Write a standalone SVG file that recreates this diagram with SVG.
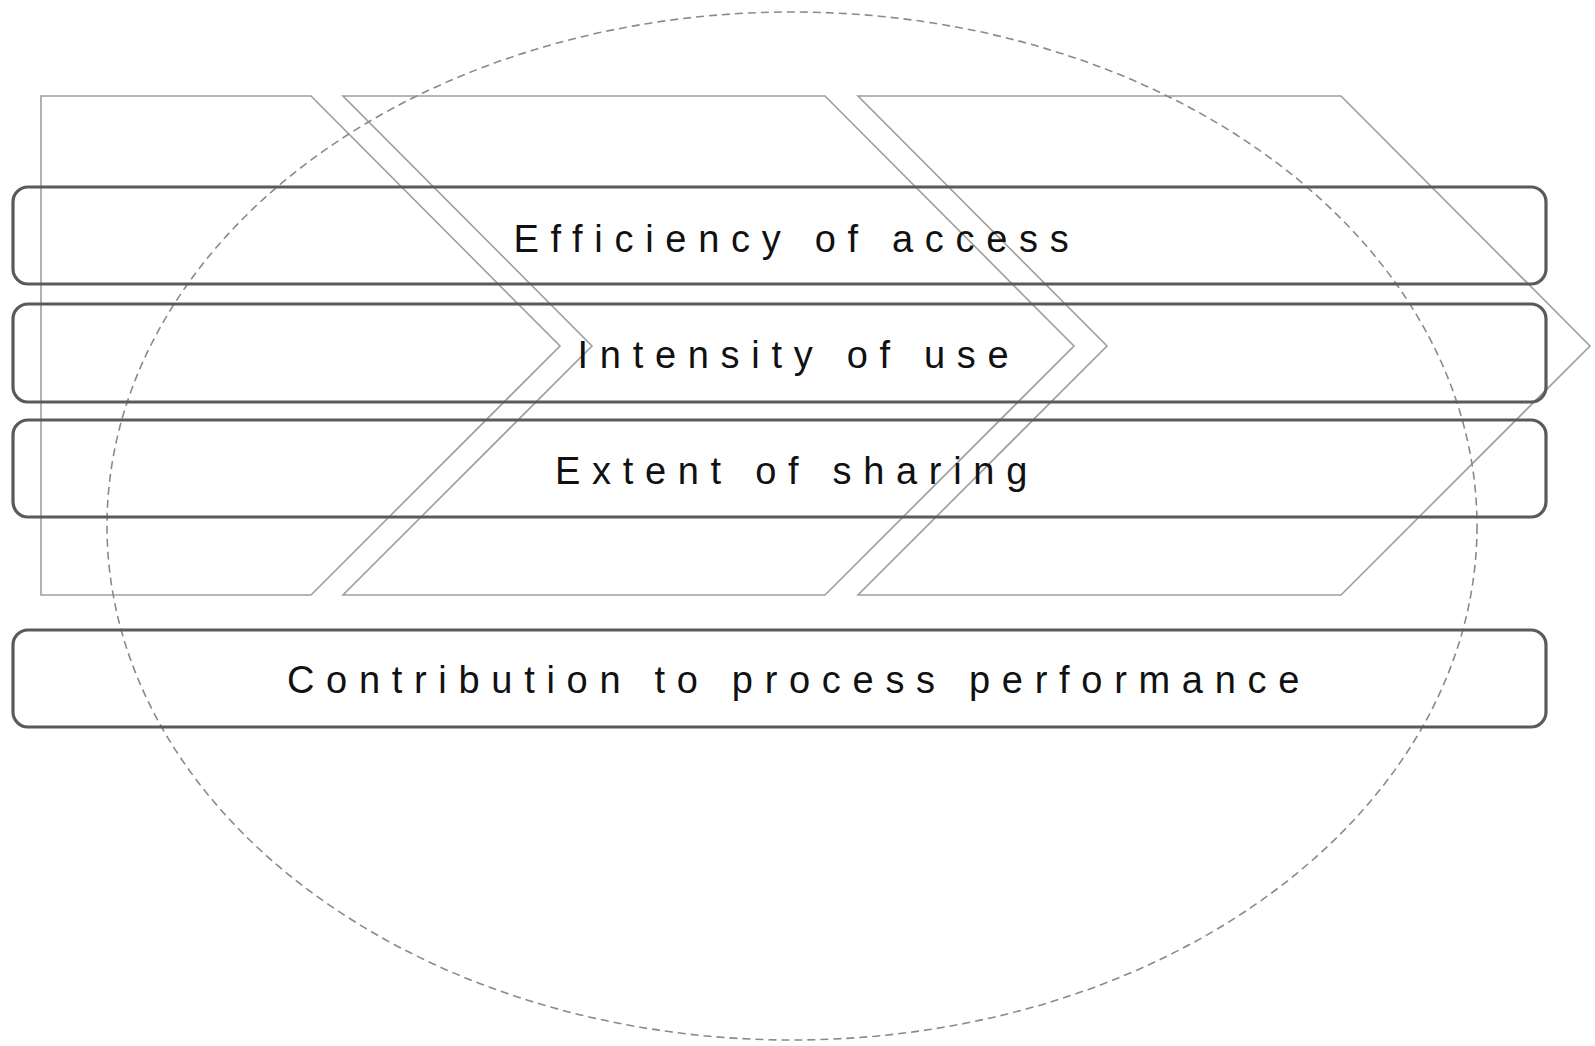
<svg xmlns="http://www.w3.org/2000/svg" width="1595" height="1046" viewBox="0 0 1595 1046">
  <style>
    .chev { fill: none; stroke: #9e9e9e; stroke-width: 1.6; stroke-linejoin: miter; }
    .oval { fill: none; stroke: #8a8a8a; stroke-width: 1.6; stroke-dasharray: 8 5; }
    .bar { fill: none; stroke: #5a5a5a; stroke-width: 3.2; }
    .lbl { font-family: "Liberation Sans", Arial, sans-serif; font-size: 38px; letter-spacing: 11.7px; fill: #111; text-anchor: middle; }
  </style>
  <rect width="1595" height="1046" fill="#ffffff"/>
  <g id="chevron-1"><polygon class="chev" points="41,96 311,96 560,346 311,595 41,595"/></g>
  <g id="chevron-2"><polygon class="chev" points="343,96 825,96 1074,346 825,595 343,595 592,346"/></g>
  <g id="chevron-3"><polygon class="chev" points="858,96 1341,96 1590,346 1341,595 858,595 1107,346"/></g>
  <g id="boundary"><ellipse class="oval" cx="792" cy="526" rx="685" ry="514"/></g>
  <g id="efficiency-of-access">
    <rect class="bar" x="13" y="187" width="1533" height="97" rx="15"/>
    <text class="lbl" x="797" y="252">Efficiency of access</text>
  </g>
  <g id="intensity-of-use">
    <rect class="bar" x="13" y="304" width="1533" height="98" rx="15"/>
    <text class="lbl" x="799" y="368">Intensity of use</text>
  </g>
  <g id="extent-of-sharing">
    <rect class="bar" x="13" y="420" width="1533" height="97" rx="15"/>
    <text class="lbl" x="797" y="484">Extent of sharing</text>
  </g>
  <g id="contribution-to-process-performance">
    <rect class="bar" x="13" y="630" width="1533" height="97" rx="15"/>
    <text class="lbl" x="799" y="693">Contribution to process performance</text>
  </g>
  <g id="connectors"/>
</svg>
